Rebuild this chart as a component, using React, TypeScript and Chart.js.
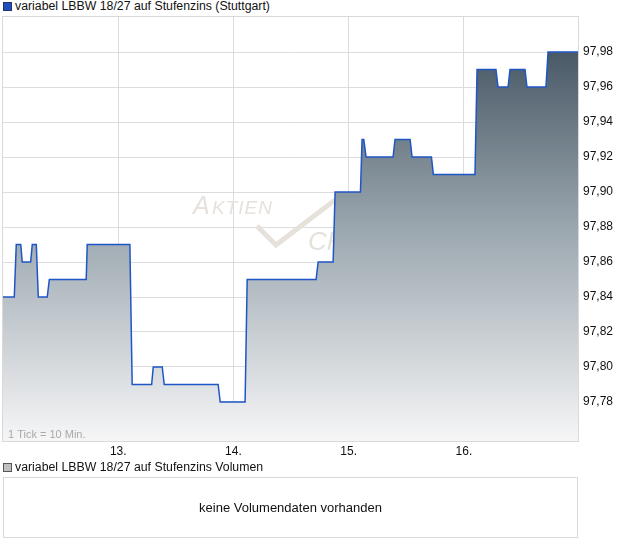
import React, { useEffect, useRef } from "react";
import { Chart, registerables } from "chart.js";

Chart.register(...registerables);

// Price levels: start (day), end (day), value
const levelStart = [12.0, 12.115, 12.167, 12.254, 12.306, 12.402, 12.731, 13.121, 13.304, 13.399, 13.885, 14.119, 14.735, 14.882, 15.116, 15.151, 15.402, 15.55, 15.735, 16.114, 16.296, 16.4, 16.547, 16.73];
const levelEnd = [12.098, 12.154, 12.24, 12.289, 12.384, 12.722, 13.101, 13.29, 13.382, 13.867, 14.101, 14.717, 14.865, 15.102, 15.131, 15.385, 15.533, 15.718, 16.096, 16.278, 16.383, 16.53, 16.712, 16.99];
const levelValue = [97.84, 97.87, 97.86, 97.87, 97.84, 97.85, 97.87, 97.79, 97.8, 97.79, 97.78, 97.85, 97.86, 97.9, 97.93, 97.92, 97.93, 97.92, 97.91, 97.97, 97.96, 97.97, 97.96, 97.98];

const dayTicks = [13, 14, 15, 16];
const dayLabels = ["13.", "14.", "15.", "16."];
const priceTicks = [97.78, 97.8, 97.82, 97.84, 97.86, 97.88, 97.9, 97.92, 97.94, 97.96, 97.98];

const FONT = "'Liberation Sans', Arial, sans-serif";

export default function App() {
  const ref = useRef<HTMLCanvasElement | null>(null);

  useEffect(() => {
    if (!ref.current) return;
    const points: { x: number; y: number }[] = [];
    for (let i = 0; i < levelValue.length; i++) {
      points.push({ x: levelStart[i], y: levelValue[i] });
      points.push({ x: levelEnd[i], y: levelValue[i] });
    }

    const frame = {
      id: "frame",
      beforeDatasetsDraw(chart: any) {
        const { ctx } = chart;
        ctx.save();
        // watermark
        ctx.fillStyle = "#e6e1db";
        ctx.strokeStyle = "#e6e1db";
        ctx.textBaseline = "alphabetic";
        ctx.font = `italic 25px ${FONT}`;
        ctx.fillText("A", 193, 214);
        ctx.font = `italic 19px ${FONT}`;
        (ctx as any).letterSpacing = "1px";
        ctx.fillText("KTIEN", 212, 214);
        (ctx as any).letterSpacing = "0px";
        ctx.lineWidth = 5;
        ctx.lineJoin = "miter";
        ctx.beginPath();
        ctx.moveTo(257, 226);
        ctx.lineTo(276, 245);
        ctx.lineTo(335, 200);
        ctx.stroke();
        ctx.font = `italic 26px ${FONT}`;
        ctx.fillText("CHECK", 308, 250);
        ctx.restore();
      },
      afterDraw(chart: any) {
        const { ctx, chartArea: a } = chart;
        ctx.save();
        ctx.strokeStyle = "#d9d9d9";
        ctx.lineWidth = 1;
        ctx.strokeRect(Math.round(a.left) - 0.5, Math.round(a.top) + 0.5, Math.round(a.right - a.left) + 1, Math.round(a.bottom - a.top));
        ctx.fillStyle = "#a9a9a9";
        ctx.font = `11px ${FONT}`;
        ctx.textBaseline = "alphabetic";
        ctx.fillText("1 Tick = 10 Min.", a.left + 5, a.bottom - 3);
        ctx.restore();
      },
    };

    const chart = new Chart(ref.current, {
      type: "line",
      data: {
        datasets: [
          {
            data: points,
            borderColor: "#1f56c6",
            borderWidth: 1.5,
            pointRadius: 0,
            fill: "start",
            backgroundColor: (c: any) => {
              const a = c.chart.chartArea;
              if (!a) return "#aab";
              const g = c.chart.ctx.createLinearGradient(0, a.top + 35, 0, a.bottom);
              g.addColorStop(0, "#495966");
              g.addColorStop(0.45, "#9aa6ae");
              g.addColorStop(1, "#f6f6f7");
              return g;
            },
            tension: 0,
          },
        ],
      },
      options: {
        animation: false,
        responsive: false,
        maintainAspectRatio: false,
        layout: { padding: { left: 3, top: 16, right: 0, bottom: 86 } },
        plugins: { legend: { display: false }, tooltip: { enabled: false } },
        scales: {
          x: {
            type: "linear",
            min: 12,
            max: 16.99,
            afterBuildTicks: (s: any) => {
              s.ticks = dayTicks.map((v) => ({ value: v }));
            },
            afterFit: (s: any) => {
              s.height = 19;
            },
            grid: { color: "#dcdcdc", drawTicks: false, lineWidth: 1 },
            border: { display: false },
            ticks: {
              padding: 3,
              color: "#111",
              font: { family: FONT, size: 12 },
              maxRotation: 0,
              callback: (v: any) => {
                const i = dayTicks.indexOf(Number(v));
                return i >= 0 ? dayLabels[i] : "";
              },
            },
          },
          y: {
            position: "right",
            min: 97.7577,
            max: 98.0006,
            afterBuildTicks: (s: any) => {
              s.ticks = priceTicks.map((v) => ({ value: v }));
            },
            afterFit: (s: any) => {
              s.width = 42;
            },
            grid: { color: "#dcdcdc", drawTicks: false, lineWidth: 1 },
            border: { display: false },
            ticks: {
              padding: 5,
              color: "#111",
              font: { family: FONT, size: 12 },
              callback: (v: any) => Number(v).toFixed(2).replace(".", ","),
            },
          },
        },
      },
      plugins: [frame],
    });
    return () => chart.destroy();
  }, []);

  return (
    <div style={{ position: "absolute", left: 0, top: 0, width: 620, height: 546, background: "#fff", fontFamily: FONT, fontSize: 12, color: "#111" }}>
      <div style={{ position: "absolute", left: 3, top: 2, width: 7, height: 7, background: "#1f4fbf", border: "1px solid #223366" }} />
      <div style={{ position: "absolute", left: 15, top: -1, whiteSpace: "nowrap", fontSize: 12.3 }}>variabel LBBW 18/27 auf Stufenzins (Stuttgart)</div>
      <canvas ref={ref} width={620} height={546} style={{ position: "absolute", left: 0, top: 0 }} />
      <div style={{ position: "absolute", left: 3, top: 463, width: 7, height: 7, background: "#c0c0c0", border: "1px solid #555" }} />
      <div style={{ position: "absolute", left: 15, top: 460, whiteSpace: "nowrap", fontSize: 12.3 }}>variabel LBBW 18/27 auf Stufenzins Volumen</div>
      <div style={{ position: "absolute", left: 3, top: 477, width: 573, height: 59, border: "1px solid #d9d9d9", display: "flex", alignItems: "center", justifyContent: "center", fontSize: 13 }}>
        keine Volumendaten vorhanden
      </div>
    </div>
  );
}
